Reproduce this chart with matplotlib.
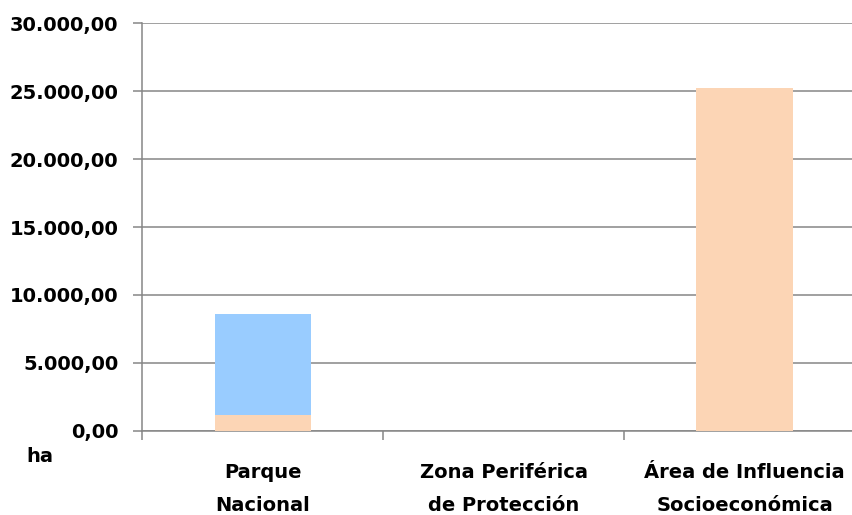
import matplotlib
matplotlib.use("Agg")
import matplotlib.pyplot as plt
from matplotlib.ticker import FuncFormatter
import numpy as np

categorias = ["Parque\nNacional", "Zona Periférica\nde Protección", "Área de Influencia\nSocioeconómica"]
serie_base = [1150, 0, 25270]
serie_sup = [7430, 0, 0]
y_ticks = [0, 5000, 10000, 15000, 20000, 25000, 30000]

plt.rcParams['font.family'] = ['DejaVu Sans']
plt.rcParams['font.weight'] = 'bold'

gris = '#868686'
fig = plt.figure(figsize=(8.53, 5.15), dpi=100)
ax = fig.add_axes([142.5 / 853, 84.3 / 515, (865 - 142.5) / 853, (430.7 - 23.3) / 515])

x = np.arange(len(categorias))
ax.bar(x, serie_base, width=0.4, color='#FCD5B5', zorder=3)
ax.bar(x, serie_sup, width=0.4, bottom=serie_base, color='#99CCFF', zorder=3)

ax.set_xlim(-0.5, 2.5)
ax.set_ylim(0, 30000)
ax.set_yticks(y_ticks)
ax.yaxis.set_major_formatter(FuncFormatter(
    lambda v, p: f"{v:,.2f}".replace(",", "X").replace(".", ",").replace("X", ".")))
ax.grid(axis='y', color=gris, linewidth=1.1, zorder=0)
ax.set_axisbelow(True)

ax.set_xticks([-0.5, 0.5, 1.5, 2.5])
ax.set_xticklabels([])
ax.set_xticks(x, minor=True)
ax.set_xticklabels(categorias, minor=True, fontsize=14, fontweight='bold', linespacing=1.95)
ax.tick_params(axis='x', which='minor', length=0, pad=23)
ax.tick_params(axis='x', which='major', length=6.5, width=1.1, color=gris)
ax.tick_params(axis='y', length=6.5, width=1.1, color=gris, pad=11, labelsize=14)
for lbl in ax.get_yticklabels():
    lbl.set_fontweight('bold')

for s in ['top', 'right']:
    ax.spines[s].set_visible(False)
for s in ['left', 'bottom']:
    ax.spines[s].set_color(gris)
    ax.spines[s].set_linewidth(1.1)

fig.text(40 / 853, 1 - 457 / 515, "ha", fontsize=14, fontweight='bold', ha='center', va='center')

fig.savefig("out.png", dpi=100)
